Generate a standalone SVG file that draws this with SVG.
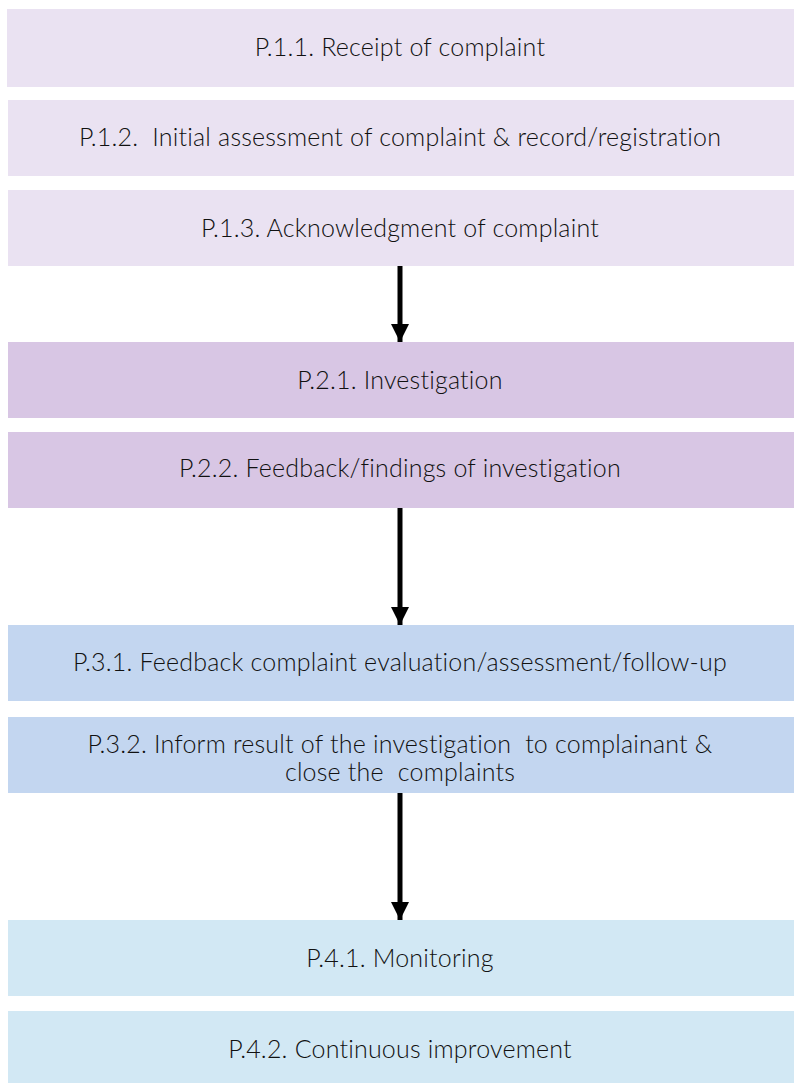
<svg xmlns="http://www.w3.org/2000/svg" width="794" height="1083" viewBox="0 0 794 1083">
<defs>
<style>
.t{font-family:Lato,"Open Sans","Liberation Sans",sans-serif;font-size:25px;font-weight:300;fill:#111;text-anchor:middle;letter-spacing:0.2px}
.c1{fill:#EAE2F2}.c2{fill:#D8C6E4}.c3{fill:#C3D6F0}.c4{fill:#D2E8F4}
.conn{stroke:#000;stroke-width:5;fill:none}
</style>
<marker id="ah" viewBox="0 0 18 18" refX="18" refY="9" markerWidth="18" markerHeight="18" markerUnits="userSpaceOnUse" orient="auto">
<path d="M0,0 L18,9 L0,18 Z" fill="#000"/>
</marker>
</defs>
<rect width="794" height="1083" fill="#fff"/>
<g id="p11"><rect class="c1" x="7" y="9" width="787" height="78"/><text class="t" x="400" y="56">P.1.1. Receipt of complaint</text></g>
<g id="p12"><rect class="c1" x="8" y="100" width="786" height="76"/><text class="t" x="400" y="146" xml:space="preserve">P.1.2.  Initial assessment of complaint &amp; record/registration</text></g>
<g id="p13"><rect class="c1" x="8" y="190" width="786" height="76"/><text class="t" x="400" y="237">P.1.3. Acknowledgment of complaint</text></g>
<g id="p21"><rect class="c2" x="8" y="342" width="786" height="76"/><text class="t" x="400" y="389">P.2.1. Investigation</text></g>
<g id="p22"><rect class="c2" x="8" y="432" width="786" height="76"/><text class="t" x="400" y="477">P.2.2. Feedback/findings of investigation</text></g>
<g id="p31"><rect class="c3" x="8" y="625" width="786" height="76"/><text class="t" x="400" y="671">P.3.1. Feedback complaint evaluation/assessment/follow-up</text></g>
<g id="p32"><rect class="c3" x="8" y="717" width="786" height="76"/><text class="t" x="400" y="753" xml:space="preserve">P.3.2. Inform result of the investigation  to complainant &amp;</text><text class="t" x="400" y="781" xml:space="preserve">close the  complaints</text></g>
<g id="p41"><rect class="c4" x="8" y="920" width="786" height="76"/><text class="t" x="400" y="967">P.4.1. Monitoring</text></g>
<g id="p42"><rect class="c4" x="8" y="1011" width="786" height="72"/><text class="t" x="400" y="1058">P.4.2. Continuous improvement</text></g>
<g id="connectors">
<line class="conn" x1="400" y1="266" x2="400" y2="342" marker-end="url(#ah)"/>
<line class="conn" x1="400" y1="508" x2="400" y2="625" marker-end="url(#ah)"/>
<line class="conn" x1="400" y1="793" x2="400" y2="920" marker-end="url(#ah)"/>
</g>
</svg>
